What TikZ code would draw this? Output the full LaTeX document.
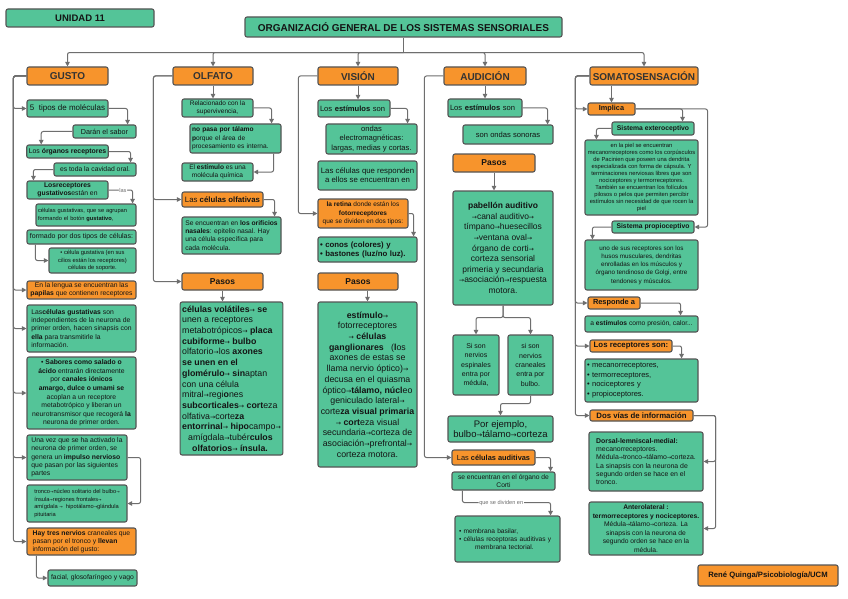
\documentclass[tikz,border=0pt]{standalone}
\usepackage{fontspec}
\usepackage{graphicx}
\setmainfont{Liberation Sans}
\newfontfamily\arrowfont{DejaVu Sans}
\usetikzlibrary{arrows.meta,calc}
\definecolor{grn}{RGB}{84,196,152}
\definecolor{org}{RGB}{247,148,44}
\definecolor{bord}{RGB}{85,85,85}
\definecolor{lnc}{RGB}{110,110,110}
\definecolor{txt}{RGB}{20,20,20}
\newcommand\ra{{\arrowfont\scalebox{0.72}{→}}}
\newcommand\fs[2]{\fontsize{#1}{#2}\selectfont}
\newcommand\mybox[7]{%
  \pgfmathsetmacro\bxw{#5-#3}%
  \pgfmathsetmacro\bxh{#6-#4}%
  \pgfmathsetmacro\bxtw{#5-#3-4}%
  \pgfmathsetmacro\bxcx{(#3+#5)/2}%
  \pgfmathsetmacro\bxcy{(#4+#6)/2}%
  \node[#1, minimum width=\bxw pt, minimum height=\bxh pt] (#2) at (\bxcx,\bxcy) {#7};}
\tikzset{
  gbox/.style={draw=bord, fill=grn, rounded corners=2pt, line width=1.1pt, inner xsep=2pt, inner ysep=1pt, align=center, text=txt},
  obox/.style={gbox, fill=org},
  lft/.style={align=left, text width=\bxtw pt},
  conn/.style={draw=lnc, line width=1pt, rounded corners=2pt, -{Triangle[width=4.5pt,length=4.5pt]}},
  plain/.style={draw=lnc, line width=1pt, rounded corners=2pt},
  lbl/.style={font=\fs{5.6}{6}, fill=white, inner sep=0.6pt, text=lnc}
}
\begin{document}
\begin{tikzpicture}[x=1pt,y=-1pt]
\useasboundingbox[fill=white] (0,0) rectangle (848,599);

% header
\mybox{gbox,font=\fs{9.5}{10}\bfseries}{unidad}{6}{9}{154}{27}{UNIDAD 11}
\mybox{gbox,font=\fs{10}{11}\bfseries}{title}{245}{17}{562}{37}{ORGANIZACIÓ GENERAL DE LOS SISTEMAS SENSORIALES}

% categories
\mybox{obox,font=\fs{10}{12}\bfseries,text=black!80}{gusto}{27}{67}{108}{85}{GUSTO}
\mybox{obox,font=\fs{10}{12}\bfseries,text=black!80}{olfato}{173}{67}{253}{85}{OLFATO}
\mybox{obox,font=\fs{10}{12}\bfseries,text=black!80}{vision}{318}{67}{398}{85}{VISIÓN}
\mybox{obox,font=\fs{10}{12}\bfseries,text=black!80}{aud}{444}{67}{526}{85}{AUDICIÓN}
\mybox{obox,font=\fs{10}{12}\bfseries,text=black!80}{soma}{590}{67}{698}{85}{SOMATOSENSACIÓN}

\draw[plain] (title.south) -- ++(0,15) coordinate (trk);
\foreach \c in {gusto,olfato,vision,aud,soma} \draw[conn] (trk) -| (\c.north);

% ---------------- GUSTO
\mybox{gbox,align=left,font=\fs{8}{9}}{g1}{27}{100}{108}{117}{5\ \ tipos de moléculas}
\mybox{gbox,font=\fs{7.2}{8}}{g2}{73}{125}{136}{138}{Darán el sabor}
\mybox{gbox,align=left,font=\fs{6.9}{8}}{g3}{27}{145}{108}{158}{Los \textbf{órganos receptores}}
\mybox{gbox,font=\fs{6.8}{8}}{g4}{54}{163}{136}{176}{es toda la cavidad oral.}
\mybox{gbox,font=\fs{6.8}{8}}{g5}{27}{181}{108}{199}{\textbf{Losreceptores}\\\textbf{gustativos}están en}
\mybox{gbox,lft,font=\fs{5.7}{7.3}}{g6}{36}{204}{136}{226}{células gustativas, que se agrupan\\formando el botón \textbf{gustativo},}
\mybox{gbox,align=left,font=\fs{7}{8}}{g7}{27}{230}{136}{244}{formado por dos tipos de células:}
\mybox{gbox,font=\fs{5.8}{7.7}}{g8}{49}{248}{136}{273}{• célula gustativa (en sus\\cilios están los receptores)\\células de soporte.}
\mybox{obox,font=\fs{6.8}{8}}{g9}{27}{281}{136}{299}{En la lengua se encuentran las\\\textbf{papilas} que contienen receptores}
\mybox{gbox,align=left,font=\fs{6.8}{8.3}}{g10}{27}{305}{136}{352}{Las\textbf{células gustativas} son\\independientes de la neurona de\\primer orden, hacen sinapsis con\\\textbf{ella} para transmitirle la\\información.}
\mybox{gbox,font=\fs{6.8}{8.6}}{g11}{27}{357}{136}{429}{• \textbf{Sabores como salado o}\\\textbf{ácido} entrarán directamente\\por \textbf{canales iónicos}\\\textbf{amargo, dulce o umami se}\\acoplan a un receptore\\metabotrópico y liberan un\\neurotransmisor que recogerá \textbf{la}\\neurona de primer orden.}
\mybox{gbox,align=left,font=\fs{6.8}{8.3}}{g12}{27}{435}{127}{480}{Una vez que se ha activado la\\neurona de primer orden, se\\genera un \textbf{impulso nervioso}\\que pasan por las siguientes\\partes}
\mybox{gbox,align=left,font=\fs{5.7}{7.8}}{g13}{27}{485}{127}{522}{tronco\ra núcleo solitario del bulbo\ra\\ínsula\ra regiones frontales\ra\\amígdala \ra\ \ hipotálamo\ra glándula\\pituitaria}
\mybox{obox,align=left,font=\fs{6.8}{8}}{g14}{27}{528}{136}{555}{\textbf{Hay tres nervios} craneales que\\pasan por el tronco y \textbf{llevan}\\información del gusto:}
\mybox{gbox,font=\fs{6.8}{8}}{g15}{48}{570}{137}{586}{facial, glosofaríngeo y vago}

\foreach \b in {g1,g9,g10,g11,g12,g14} \draw[conn] (gusto.west) -- ++(-13,0) |- (\b.west);
\draw[conn] (g1.east) -| ([xshift=-9pt]g2.north east);
\draw[conn] (g2.west) -| ([xshift=15pt]g3.north west);
\draw[conn] (g3.east) -| ([xshift=-6pt]g4.north east);
\draw[conn] (g4.west) -| ([xshift=7pt]g5.north west);
\draw[conn] (g5.east) -| node[lbl,pos=0.3]{las} ([xshift=-4pt]g6.north east);
\draw[conn] ([xshift=9pt]g7.south west) |- (g8.west);
\draw[conn] (g12.east) -- ++(13,0) |- (g13.east);
\draw[conn] ([xshift=10pt]g14.south west) |- (g15.west);

% ---------------- OLFATO
\mybox{gbox,font=\fs{6.5}{7.7}}{o1}{182}{99}{253}{117}{Relacionado con la\\supervivencia,}
\mybox{gbox,lft,font=\fs{6.6}{8.3}}{o2}{190}{124}{281}{153}{\textbf{no pasa por tálamo}\\\textbf{p}orque el área de\\procesamiento es interna.}
\mybox{gbox,font=\fs{6.6}{8.3}}{o3}{182}{163}{253}{181}{El \textbf{estímulo} es una\\molécula química}
\mybox{obox,font=\fs{7.8}{8}}{o4}{182}{192}{263}{207}{Las \textbf{células olfativas}}
\mybox{gbox,align=left,font=\fs{6.7}{8.2}}{o5}{182}{217}{281}{254}{Se encuentran en \textbf{los orificios}\\\textbf{nasales}: epitelio nasal. Hay\\una célula específica para\\cada molécula.}
\mybox{obox,font=\fs{8.5}{9}\bfseries}{o6}{182}{273}{263}{290}{Pasos}
\mybox{gbox,align=left,font=\fs{8.8}{10.7}}{o7}{182}{302}{281}{455}{\textbf{células volátiles}\ra\ \textbf{se}\\unen a receptores\\metabotrópicos\ra\ \textbf{placa}\\\textbf{cubiforme}\ra\ \textbf{bulbo}\\olfatorio\ra los \textbf{axones}\\\textbf{se unen en el}\\\textbf{glomérulo}\ra\ \textbf{sin}aptan\\con una célula\\mitral\ra regi\textbf{o}nes\\\textbf{subcorticales}\ra\ \textbf{cort}eza\\olfativa\ra corte\textbf{za}\\\textbf{entorrinal}\ra\ \textbf{hipo}campo\ra\\\hspace*{6pt}amígdala\ra tubér\textbf{culos}\\\hspace*{10pt}\textbf{olfatorios}\ra\ \textbf{ínsula.}}

\foreach \b in {o4,o6} \draw[conn] (olfato.west) -- ++(-19,0) |- (\b.west);
\draw[conn] (olfato.south) -- (olfato.south |- o1.north);
\draw[conn] (o1.east) -| ([xshift=-10pt]o2.north east);
\draw[conn] ([xshift=-8pt]o2.south east) |- (o3.east);
\draw[conn] (o4.east) -| ([xshift=-7pt]o5.north east);
\draw[conn] (o6.south) -- (o6.south |- o7.north);

% ---------------- VISION
\mybox{gbox,lft,font=\fs{7.6}{8}}{v1}{318}{100}{390}{117}{Los \textbf{estímulos} son}
\mybox{gbox,font=\fs{7.6}{9.3}}{v2}{326}{124}{417}{154}{ondas\\electromagnéticas:\\largas, medias y cortas.}
\mybox{gbox,font=\fs{7.8}{9.3}}{v3}{318}{161}{417}{190}{Las células que responden\\a ellos se encuentran en}
\mybox{obox,font=\fs{6.5}{8.6}}{v4}{318}{199}{408}{228}{\textbf{la retina} donde están los\\\textbf{fotorreceptores}\\que se dividen en dos tipos:}
\mybox{gbox,lft,font=\fs{7.8}{9}\bfseries}{v5}{318}{237}{417}{262}{• conos (colores) y\\• bastones (luz/no luz).}
\mybox{obox,font=\fs{8.5}{9}\bfseries}{v6}{318}{273}{398}{290}{Pasos}
\mybox{gbox,font=\fs{8.8}{10.7}}{v7}{318}{302}{417}{467}{\textbf{estímulo}\ra\\fotorreceptores\\\ra\ \textbf{células}\\\textbf{ganglionares}\ \ \ (\textbf{l}os\\axones de estas se\\llama nervio óptico)\ra\\decusa en el quiasma\\óptico\ra\textbf{tálamo, núcl}eo\\geniculado lateral\ra\\corte\textbf{za visual primaria}\\\ra\ \textbf{cort}eza visual\\secundaria\ra corteza de\\asociación\ra prefrontal\ra\\corteza motora.}

\draw[conn] (vision.west) -- ++(-19,0) |- (v4.west);
\draw[conn] (vision.south) -- (vision.south |- v1.north);
\draw[conn] (v1.east) -| ([xshift=-10pt]v2.north east);
\draw[conn] (v4.east) -| ([xshift=-4pt]v5.north east);
\draw[conn] (v7.north |- v6.south) -- (v7.north);

% ---------------- AUDICION
\mybox{gbox,lft,font=\fs{7.6}{8}}{a1}{448}{99}{522}{117}{Los \textbf{estímulos} son}
\mybox{gbox,font=\fs{7.6}{8}}{a2}{463}{125}{553}{144}{son ondas sonoras}
\mybox{obox,font=\fs{8.5}{9}\bfseries}{a3}{453}{154}{535}{172}{Pasos}
\mybox{gbox,font=\fs{8.5}{10.6}}{a4}{453}{191}{553}{305}{\textbf{pabellón auditivo}\\\ra canal auditivo\ra\\tímpano\ra huesecillos\\\ra ventana oval\ra\\órgano de corti\ra\\corteza sensorial\\primeria y secundaria\\\ra asociación\ra respuesta\\motora.}
\mybox{gbox,font=\fs{7}{9.3}}{a5}{453}{335}{499}{395}{Si son\\nervios\\espinales\\entra por\\médula,}
\mybox{gbox,font=\fs{7}{9.3}}{a6}{508}{335}{553}{395}{si son\\nervios\\craneales\\entra por\\bulbo.}
\mybox{gbox,font=\fs{9.5}{10.5}}{a7}{448}{416}{553}{442}{Por ejemplo,\\bulbo\ra tálamo\ra corteza}
\mybox{obox,font=\fs{7.4}{8}}{a8}{452}{450}{535}{465}{Las \textbf{células auditivas}}
\mybox{gbox,font=\fs{6.7}{7.8}}{a9}{452}{472}{555}{490}{se encuentran en el órgano de\\Corti}
\mybox{gbox,lft,font=\fs{6.6}{8.2}}{a10}{455}{516}{560}{562}{\hspace*{2pt}• membrana basilar,\\\hspace*{2pt}• células receptoras auditivas y\\\hspace*{18pt}membrana tectorial.}

\draw[conn] (aud.west) -- ++(-19,0) |- (a8.west);
\draw[conn] (aud.south) -- (aud.south |- a1.north);
\draw[conn] (a1.east) -| ([xshift=-6pt]a2.north east);
\draw[conn] (a3.south) -- (a3.south |- a4.north);
\draw[conn] (a4.south) -- ++(0,12) -| (a5.north);
\draw[conn] (a4.south) -- ++(0,12) -| (a6.north);
\draw[conn] (a6.south) -- ++(0,8) -| (a7.north);
\draw[conn] (a8.east) -| ([xshift=-5pt]a9.north east);
\draw[conn] ([xshift=11pt]a9.south west) -- ++(0,12) -| node[lbl,pos=0.22]{que se dividen en} ([xshift=-10pt]a10.north east);

% ---------------- SOMATOSENSACION
\mybox{obox,font=\fs{7.3}{8}\bfseries}{s1}{588}{103}{635}{115}{Implica}
\mybox{gbox,font=\fs{6.8}{8}\bfseries}{s2}{612}{122}{694}{135}{Sistema exteroceptivo}
\mybox{gbox,font=\fs{5.8}{7}}{s3}{585}{140}{698}{215}{en la piel se encuentran\\mecanorreceptores como los corpúsculos\\de Pacinien que poseen una dendrita\\especializada con forma de cápsula. Y\\terminaciones nerviosas libres que son\\nociceptores y termorreceptores.\\También se encuentran los folículos\\pilosos o pelos que permiten percibir\\estímulos sin necesidad de que rocen la\\piel}
\mybox{gbox,font=\fs{6.8}{8}\bfseries}{s4}{612}{221}{694}{233}{Sistema propioceptivo}
\mybox{gbox,font=\fs{6.3}{8.2}}{s5}{585}{240}{698}{290}{uno de sus receptores son los\\husos musculares, dendritas\\enrolladas en los músculos y\\órgano tendinoso de Golgi, entre\\tendones y músculos.}
\mybox{obox,font=\fs{7.4}{8}\bfseries}{s6}{588}{297}{640}{309}{Responde a}
\mybox{gbox,font=\fs{6.7}{8}}{s7}{585}{316}{698}{332}{a \textbf{estímulos} como presión, calor...}
\mybox{obox,font=\fs{7.8}{8}\bfseries}{s8}{590}{340}{672}{352}{Los receptores son:}
\mybox{gbox,lft,font=\fs{7.5}{9.6}}{s9}{585}{359}{698}{402}{• mecanorreceptores,\\• termorreceptores,\\• nociceptores y\\• propioceptores.}
\mybox{obox,font=\fs{7.8}{8}\bfseries}{s10}{590}{410}{693}{421}{Dos vías de información}
\mybox{gbox,align=left,font=\fs{6.9}{8.3}}{s11}{589}{432}{703}{491}{\textbf{Dorsal-lemniscal-medial:}\\mecanorreceptores.\\Médula\ra tronco\ra tálamo\ra corteza.\\La sinapsis con la neurona de\\segundo orden se hace en el\\tronco.}
\mybox{gbox,font=\fs{6.7}{8.5}}{s12}{589}{502}{703}{555}{\textbf{Anterolateral :}\\\textbf{termorreceptores y nociceptores.}\\Médula\ra tálamo\ra corteza. La\\sinapsis con la neurona de\\segundo orden se hace en la\\médula.}

\foreach \b in {s1,s6,s8,s10} \draw[conn] (soma.west) -- ++(-14,0) |- (\b.west);
\draw[conn] (s1.north |- soma.south) -- (s1.north);
\draw[conn] (s1.east) -| ([xshift=-12pt]s2.north east);
\draw[conn] (s1.east) -- ++(72,0) |- (s4.east);
\draw[conn] (s2.west) -| ([xshift=12pt]s3.north west);
\draw[conn] (s4.west) -| ([xshift=8pt]s5.north west);
\draw[conn] (s6.east) -| ([xshift=-18pt]s7.north east);
\draw[conn] (s8.east) -| ([xshift=-17pt]s9.north east);
\draw[conn] (s10.east) -- ++(22,0) |- (s11.east);
\draw[conn] (s10.east) -- ++(22,0) |- (s12.east);

% footer
\mybox{obox,font=\fs{7.7}{8}\bfseries}{foot}{698}{565}{838}{586}{René Quinga/Psicobiología/UCM}
\end{tikzpicture}
\end{document}
